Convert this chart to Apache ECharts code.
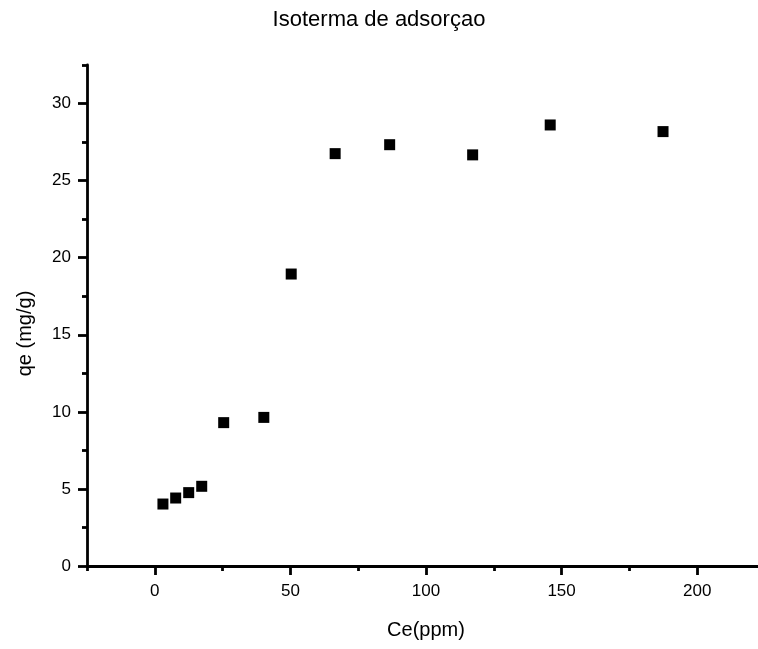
<!DOCTYPE html>
<html>
<head>
<meta charset="utf-8">
<title>Isoterma de adsorçao</title>
<script src="https://cdn.jsdelivr.net/npm/echarts@6/dist/echarts.min.js"></script>
<style>
  html, body { margin: 0; padding: 0; background: #fff; }
  #chart { width: 758px; height: 649px; }
</style>
</head>
<body>
<div id="chart"></div>
<script>
// Equilibrium concentration Ce (ppm) and adsorbed amount qe (mg/g)
const ce = [3.0, 7.7, 12.5, 17.3, 25.4, 40.2, 50.3, 66.5, 86.6, 117.2, 145.8, 187.4];
const qe = [4.02, 4.41, 4.76, 5.17, 9.30, 9.64, 18.94, 26.75, 27.33, 26.67, 28.61, 28.18];

// Axis ticks: labelled major ticks and short minor ticks in between
const xMajorTicks = [0, 50, 100, 150, 200];
const xMinorTicks = [-25, 25, 75, 125, 175, 225];
const yMajorTicks = [0, 5, 10, 15, 20, 25, 30];
const yMinorTicks = [2.5, 7.5, 12.5, 17.5, 22.5, 27.5, 32.5];

const FONT = 'Liberation Sans, Arial, sans-serif';
const INK = '#000';

const points = ce.map((x, i) => [x, qe[i]]);

const chart = echarts.init(document.getElementById('chart'), null, { renderer: 'canvas' });

const lineStyle = { color: INK, width: 2.8 };

chart.setOption({
  animation: false,
  backgroundColor: '#fff',
  title: {
    text: 'Isoterma de adsorçao',
    left: 'center',
    top: 4,
    textStyle: { fontFamily: FONT, fontSize: 22, fontWeight: 'normal', color: INK }
  },
  // the plot area runs slightly past the right edge of the page (x max 225)
  grid: {
    left: 87, top: 65, width: 678, height: 501,
    containLabel: false, outerBoundsMode: 'none'
  },
  xAxis: [
    {
      type: 'value', min: -25, max: 225, position: 'bottom',
      name: 'Ce(ppm)', nameLocation: 'middle', nameGap: 54,
      nameTextStyle: { fontFamily: FONT, fontSize: 20, color: INK },
      axisLine: { show: true, onZero: false, lineStyle },
      axisTick: { show: true, customValues: xMajorTicks, length: 9, lineStyle },
      axisLabel: { customValues: xMajorTicks, margin: 17, fontFamily: FONT, fontSize: 17, color: INK },
      splitLine: { show: false }
    },
    {
      type: 'value', min: -25, max: 225, position: 'bottom',
      axisLine: { show: false, onZero: false },
      axisTick: { show: true, customValues: xMinorTicks, length: 5, lineStyle },
      axisLabel: { show: false },
      splitLine: { show: false }
    }
  ],
  yAxis: [
    {
      type: 'value', min: 0, max: 32.5, position: 'left',
      name: 'qe (mg/g)', nameLocation: 'middle', nameGap: 52, nameRotate: 90,
      nameTextStyle: { fontFamily: FONT, fontSize: 20, color: INK, padding: [0, 36, 0, 0] },
      axisLine: { show: true, onZero: false, lineStyle },
      axisTick: { show: true, customValues: yMajorTicks, length: 9, lineStyle },
      axisLabel: { customValues: yMajorTicks, margin: 16, fontFamily: FONT, fontSize: 17, color: INK },
      splitLine: { show: false }
    },
    {
      type: 'value', min: 0, max: 32.5, position: 'left',
      axisLine: { show: false, onZero: false },
      axisTick: { show: true, customValues: yMinorTicks, length: 5, lineStyle },
      axisLabel: { show: false },
      splitLine: { show: false }
    }
  ],
  series: [
    {
      type: 'scatter',
      xAxisIndex: 0,
      yAxisIndex: 0,
      data: points,
      symbol: 'rect',
      symbolSize: 11,
      itemStyle: { color: '#000', opacity: 1 }
    }
  ]
});
</script>
</body>
</html>
